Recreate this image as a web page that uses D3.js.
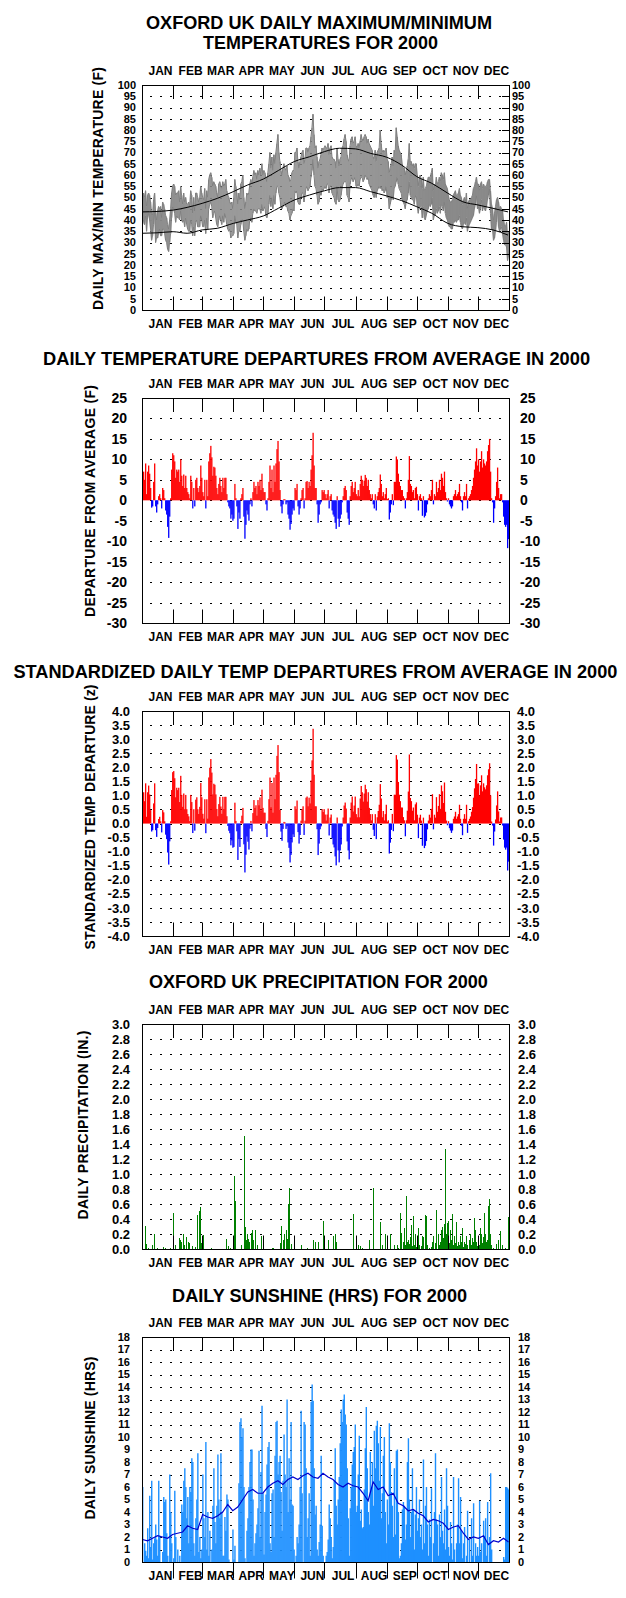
<!DOCTYPE html>
<html><head><meta charset="utf-8">
<script src="https://cdn.jsdelivr.net/npm/d3@7"></script>
<style>
body{margin:0;background:#fff}
svg{display:block}
text{font-family:"Liberation Sans",Arial,Helvetica,sans-serif;font-weight:bold;fill:#000}
</style></head><body>
<svg id="chart" width="626" height="1598"></svg>
<script>
// ---------- DATA ----------
const months = ["JAN","FEB","MAR","APR","MAY","JUN","JUL","AUG","SEP","OCT","NOV","DEC"];
const monthStarts = [0,31,60,91,121,152,182,213,244,274,305,335,366];

const tempTicks = [0,5,10,15,20,25,30,35,40,45,50,55,60,65,70,75,80,85,90,95,100];
const depTicks = [-30,-25,-20,-15,-10,-5,0,5,10,15,20,25];
const zTicks = [-4,-3.5,-3,-2.5,-2,-1.5,-1,-0.5,0,0.5,1,1.5,2,2.5,3,3.5,4];
const precipTicks = [0,0.2,0.4,0.6,0.8,1.0,1.2,1.4,1.6,1.8,2.0,2.2,2.4,2.6,2.8,3.0];
const sunTicks = [0,1,2,3,4,5,6,7,8,9,10,11,12,13,14,15,16,17,18];

// normal (average) max / min temperature, sampled through the year
const normalDays = [0,15,31,45,60,75,91,105,121,136,152,167,182,197,213,228,244,259,274,289,305,320,335,350,365];
const normalMax = [43.6,43.8,44.4,45.6,47.4,49.6,52.6,55.5,58.2,62,66,68.1,70.4,71.9,71.6,69.6,67.9,64.4,59.3,56.3,51.9,48.1,46.7,45.2,43.6];
const normalMin = [34.1,34.3,34.8,34.1,35.6,36.3,38.5,40,41.8,45.2,48.9,51.1,53,54.4,54.4,52.6,50.7,48.6,45.9,43,38.5,37,36.6,35.6,33.3];

const dailyMax = [
48,52,50,53,46,51,52,51,48,43,42,49,52,44,40,44,46,45,46,41,48,47,45,42,41,38,36,40,45,52,55,
56,55,51,52,52,53,48,55,51,47,52,48,50,47,47,48,46,53,51,43,50,44,52,52,50,48,50,55,52,
50,49,54,45,53,50,58,60,61,59,55,57,56,55,52,50,56,57,55,54,57,55,56,58,53,51,50,48,47,48,45,
50,58,55,52,47,52,49,56,57,60,50,45,48,52,51,52,56,58,56,59,62,60,61,58,62,60,63,60,65,60,
62,61,59,57,61,65,70,63,68,62,69,65,70,74,78,70,66,62,60,63,65,63,62,64,60,59,57,58,61,62,62,
70,70,72,66,63,66,68,70,71,65,67,72,72,70,72,73,77,81,87,78,72,73,68,63,66,67,69,72,71,72,
73,72,72,74,69,72,73,68,67,67,66,63,72,67,64,67,68,72,73,76,78,75,69,67,66,73,76,77,74,75,77,
73,72,74,72,75,78,76,75,77,78,77,74,76,74,73,72,71,68,67,71,66,70,71,72,80,74,70,71,70,71,72,
67,66,61,63,65,68,64,71,70,81,77,73,71,70,69,65,63,63,60,62,64,67,74,66,66,64,65,63,65,65,
60,55,59,60,58,54,59,53,54,55,57,59,59,59,61,63,53,56,55,59,56,57,59,57,61,60,58,61,56,55,54,
51,49,48,48,49,51,52,53,51,51,52,54,51,50,47,49,50,48,52,45,48,49,49,50,51,54,55,57,59,56,
56,53,56,57,54,56,55,55,55,57,58,58,53,47,45,40,43,46,49,50,48,45,46,45,44,40,38,37,39,33,35];

const dailyMin = [
38,40,38,42,35,41,43,40,36,31,33,38,44,30,32,32,34,36,33,33,36,36,34,31,30,27,26,30,34,41,46,
45,43,39,42,41,41,40,44,40,39,40,37,41,38,36,35,35,40,38,33,37,33,39,40,37,37,37,42,40,
37,37,40,34,41,36,45,47,48,46,41,43,44,41,38,37,40,42,40,38,42,39,43,41,38,36,35,36,32,33,33,
34,42,39,38,32,35,35,38,40,40,35,31,33,36,35,36,40,41,39,43,45,44,44,43,45,45,45,43,47,44,
45,46,42,41,43,47,51,46,50,45,51,47,52,55,55,52,50,46,45,46,47,48,46,46,44,43,40,42,43,45,44,
53,52,53,48,47,47,50,52,52,48,51,54,55,53,54,55,59,62,67,60,55,54,51,47,48,52,51,54,53,54,
55,54,56,56,52,55,55,52,51,50,48,47,55,49,48,49,51,54,56,57,57,57,51,50,48,56,58,59,57,58,59,
55,55,56,55,58,59,59,57,58,60,59,58,59,56,55,54,53,51,50,53,50,53,54,55,54,55,53,54,52,53,55,
50,51,45,47,49,51,49,54,55,57,59,56,54,53,52,49,48,47,45,48,49,52,57,51,50,49,49,47,50,51,
46,43,46,46,46,41,46,41,40,42,44,45,47,46,47,50,40,42,42,45,43,44,46,43,47,46,44,48,43,41,40,
38,37,37,36,36,39,39,40,39,40,40,42,39,37,36,38,39,38,41,35,37,38,39,40,41,42,45,47,51,45,
46,43,45,49,44,46,45,44,46,49,51,54,43,36,36,31,32,35,39,45,37,35,36,37,34,31,29,29,28,22,24];

const tempDeparture = [
4,7,5,9,1.5,7,8.5,6.5,3,-1.8,-1.5,4.5,9,-1.5,-3,-1,1,1.5,0.5,-2,3,2.5,0.5,-2.5,-3.5,-6.5,-9.2,-4,0.5,7.5,11.5,
11,9.5,5.5,7.5,7,7.5,4.5,10,6,3.5,6.3,3,6,3,2,1.5,0.5,6,4.5,-2,3,-1.5,5,5.5,3,2,3.5,8.5,5.5,
2,1,5,-2,5,1,9.5,11.5,13.3,10.5,6,8.2,8,6,3,1.5,4,5.5,3.5,2,5.5,3,5.5,5.5,1.5,-0.5,-1.5,-2,-4.5,-3.5,-5,
-4.5,4,0.5,-1.5,-7,-3,-4.5,0.5,1.5,3,-4,-9.4,-6,-2.5,-3.5,-5,-1,0.5,-1.5,2,4.5,3,3.5,1.5,4.5,3.5,5,2.5,6.5,3,
2,2,-1,-2.5,0.5,4.5,8.5,3,7.5,2,8.5,4.5,9,12.5,14.5,9.5,2.5,-1.5,-3.2,-1,0.3,0.2,-1,-0.5,-3.5,-4.5,-7.2,-5.8,-3.5,-2,-2.5,
3,2.5,4,-1.5,-3.5,-2,0.5,2.5,3,-2,0.5,4.5,4.7,3,4.5,3.5,7.5,11,16.5,8.5,3,3,-1,-5.5,-3.5,-1,-0.5,2.5,2,2.5,
1.5,0.5,1.5,2.5,-2,1,1.5,-2.5,-3.5,-4,-5.5,-7,1,-4.5,-6.5,-4.5,-3.5,-0.5,1,3,3.5,2.5,-3,-4.5,-6,1,3.5,4.5,2,3,4.5,
1.5,1,2.5,1,4,6,5,3.5,4.8,6.2,5.5,3.5,5,2.5,1.5,0.5,1.5,-1,-2,1.5,-2.5,1,2,3,6.3,4,1,2,0.5,1.5,3,
0.3,0.5,-4.7,-3,-1,1.5,-1.2,4.5,4.5,10.7,10,6.5,4.5,3.5,2.5,2.5,1,0.5,-2,0.5,2,5,10.8,4,3.5,2,2.5,0.5,3,3.3,
1.5,-2.5,1,1.5,0.5,-3.8,1,-4.2,-3.8,-3,-1,0.5,1.5,1,2.5,5,-1,1.5,1,4.5,2,3,5,2.5,6.5,5.5,3.5,7,2,0.5,-0.3,
0.5,-1,-1.5,-2,-1.5,1,1.5,2.5,1,1.5,2,4,1,-0.5,-2.5,1,2,1,4,-2,0.5,1,1.5,2.5,3.5,5.5,7.5,9.5,12.7,8.5,
10,7,9.5,12,8,10,9,8.5,9.5,12,13.5,15,7,0.5,-0.5,-5.5,-2,1,4.5,8,3,0.5,1.5,1.5,-0.5,-4,-6,-6.5,-6,-11.7,-9.5];

// standard deviation of daily mean temperature by month (F), read from the ratio of the two departure charts
const monthlyStdDev = [6.3,5.9,5.8,5.4,5.2,4.9,4.7,4.5,4.4,4.8,6.0,7.0];

const precipitation = [
0,0,0,.31,.07,0,.02,0,0,0,.05,0,.2,0,0,.02,0,0,0,0,0,.03,0,.02,0,0,0,0,.02,0,0,
.48,0,.06,0,0,0,.15,.12,.1,0,.2,.05,0,.16,0,.1,.08,0,0,.04,0,0,.03,0,.45,0,.51,.56,.08,
0,.19,0,0,0,0,0,0,0,.01,0,0,0,0,0,0,0,0,0,0,0,0,0,0,.13,0,.04,0,.02,0,0,
0,.97,.64,0,0,0,0,0,.05,0,0,1.51,.3,.12,.2,.14,.1,0,.22,.25,.12,0,.26,0,.06,0,0,0,.18,0,
0,0,0,0,0,0,0,0,0,.02,.02,0,0,0,0,0,0,.08,.31,0,.12,.2,0,.26,.13,.6,.82,0,.07,0,0,
.1,0,0,0,0,0,0,.05,0,0,0,0,0,.02,0,0,0,0,0,.12,0,.09,0,0,.1,0,0,0,0,.38,
0,0,0,.12,0,0,0,0,.17,0,.2,.1,0,0,0,0,0,0,0,0,0,0,0,0,0,0,0,0,.47,0,0,
0,0,.05,0,.04,0,.02,0,0,0,0,0,0,.12,0,0,0,.81,0,0,0,0,0,0,.36,0,.05,0,0,.2,0,
.03,0,0,.2,0,0,0,.06,0,0,.05,.02,0,.48,.22,0,.1,.28,.06,.71,.1,.12,.07,.16,.32,.04,.44,.05,.2,.03,
0,.28,.05,0,.04,.18,.16,0,.45,.44,.06,0,.02,0,.03,.1,.18,0,.08,.52,0,.2,.05,.1,.25,.3,.15,.33,1.34,.2,.35,
.38,.08,.26,.12,.47,.05,.18,.08,.36,.04,.1,.06,.17,.1,.28,.03,.1,.07,.17,.05,0,.12,.2,.06,.15,.1,.41,.25,.1,.04,
.18,.06,.28,.2,.08,.16,.48,.2,.1,.12,.58,.67,.2,.05,0,.02,0,0,.07,0,.12,0,.24,0,.05,0,0,.01,0,0,.43];

const sunshine = [
6,0,1.5,0.9,0.5,2.7,0.3,5.3,1.2,6.5,0.2,1.5,1.9,3,1.8,0.5,6.5,2.1,0,0,0.8,5.2,4.8,5,2.3,0.5,0,7,4,1.5,0,
0.3,5.7,2,0,1,0,0.5,0,4.6,4,6.5,7.5,6,3.5,5.2,1.5,6,5.6,8.3,8,1.5,0.5,3.5,5,8.7,0.8,2,0.3,1,
7,3.5,2,9.6,1,4,0.5,2.5,0,1,4.5,7.5,3.2,1.5,4.5,8.6,5,3.5,8.7,4,0.5,0.5,3.6,2.5,5.4,5,0.2,0,0,0,2.6,
0.2,1.3,0,0,0,6.3,11.2,11.5,10,10.7,6,0.3,0,2.5,3.5,6,8,9,9,5,0.5,1.5,2.3,3,4.3,8.9,2,7.2,12.5,5.5,
0.6,4,5.4,7.8,9.2,9.6,1.5,0.8,5.5,5.8,2,8.5,11.2,11.3,7,8,8.5,5.6,2.5,6.5,10.2,7,6,13,4,8.3,5,11.2,4.6,4.5,1,
0,0.5,2,1.5,3,6,12.1,5.5,0,11.2,11,7.5,2,3.5,5.5,0.5,12.8,14.2,12.9,7.5,3.8,4.5,1,0.5,1.6,3,8.5,2.9,0.5,0,
0,0.5,0.8,1.8,4.6,3.5,2,0.3,1.2,6.5,9.1,4.5,3,5,6.8,9.5,12.2,11.2,13,13.4,11.8,11,7.5,3.5,0.5,4.3,6,7.8,8.8,9.2,11,
4,4.5,7,10.1,3.3,4.2,2.7,2.8,5.8,9.1,12.4,7.5,4,3,8.8,6,8,4.5,10.5,7.5,10.9,11.3,9.5,6.5,10.8,3.5,5.5,8.5,10,4,1.5,
5,3,11.1,8,5.6,4.5,2,7.5,2.2,8.9,9,4,0.3,0.5,1.5,4.2,4.8,4.5,1.8,3,8,9.9,5,2,4,7.5,4.2,1,3.8,6,
2.5,3.5,5,2,3,1,8.2,1.5,4.5,6,3,0.5,3.4,2,5.9,0,1.5,4,8.7,3.4,3,0.5,3.8,2,6.8,2.5,1.5,4.2,1,7.5,4.5,
1.2,0.5,3.2,1.5,0.2,6.8,1,0,1.5,3,6.7,1.5,5.2,2.5,0.3,1.5,2.8,0,0.5,4.1,0,1.8,0,3.5,0.5,4.7,0,1.5,0.5,1.2,
0.5,4.9,0.8,1.5,0,3.3,2.1,3.5,0.5,4.8,0,2,7.1,1,0,0,0,0,0,0,0,0,0,0,0,0.4,0.2,6,6,5.9,5.8];

// average sunshine, one value every 5 days (day 0,5,...,365)
const sunshineNormal = [1.8,1.7,1.9,2.1,2.0,1.9,2.2,2.3,2.4,2.9,2.7,2.6,3.8,3.6,3.5,3.7,4.0,4.6,4.1,4.4,
5.0,5.6,5.8,5.5,5.5,6.0,6.3,6.5,6.2,6.6,6.8,6.6,6.9,7.1,6.8,6.7,7.1,6.8,6.6,6.2,
6.0,6.3,6.1,6.0,5.5,4.9,6.4,5.8,6.0,5.3,5.5,4.7,4.5,4.1,4.2,3.9,3.7,3.2,3.4,3.3,
3.1,2.6,2.8,2.9,2.3,1.8,2.0,1.9,2.1,1.4,1.7,1.6,1.9,1.6];

[["dailyMax",dailyMax],["dailyMin",dailyMin],["tempDeparture",tempDeparture],["precipitation",precipitation],["sunshine",sunshine]]
  .forEach(([n,a]) => { if (a.length !== 366) console.error(n + " length " + a.length); });

// ---------- DRAWING ----------
const svg = d3.select("#chart");
const plotL = 142, plotR = 509;
const x = d3.scaleLinear().domain([0, 366]).range([plotL, plotR]);
const dayW = x(1) - x(0);
const days = d3.range(366);
const monthOf = d => d3.bisectRight(monthStarts, d) - 1;
const dotDays = d3.range(36).map(k => 9.2 + k * 9.95);

function panel(o) {
  const y = d3.scaleLinear().domain(o.domain).range([o.top + o.height, o.top]);
  const root = svg.append("g");
  const gDots = root.append("g");
  const gData = root.append("g");
  const gFrame = root.append("g");

  const pts = [];
  o.ticks.filter(v => v > o.domain[0] && v < o.domain[1])
    .forEach(v => dotDays.forEach(d => pts.push([d, v])));
  gDots.selectAll("rect").data(pts).join("rect")
    .attr("x", p => Math.round(x(p[0])) - 1).attr("y", p => Math.round(y(p[1])))
    .attr("width", 2).attr("height", 1).attr("fill", "#000");

  gFrame.append("rect").attr("x", plotL + 0.5).attr("y", o.top + 0.5)
    .attr("width", plotR - plotL).attr("height", o.height)
    .attr("fill", "none").attr("stroke", "#000").attr("stroke-width", 1);

  const inner = monthStarts.slice(1, 12);
  gFrame.selectAll("line.tt").data(inner).join("line")
    .attr("x1", d => Math.round(x(d)) + 0.5).attr("x2", d => Math.round(x(d)) + 0.5)
    .attr("y1", o.top).attr("y2", o.top + 14).attr("stroke", "#000");
  const b = o.top + o.height + 0.5;
  gFrame.selectAll("line.bt").data(inner).join("line")
    .attr("x1", d => Math.round(x(d)) + 0.5).attr("x2", d => Math.round(x(d)) + 0.5)
    .attr("y1", o.bottomOut ? b : b - 14).attr("y2", o.bottomOut ? b + 16 : b).attr("stroke", "#000");

  const mids = months.map((m, i) => ({ m, xm: x((monthStarts[i] + monthStarts[i + 1]) / 2) + 3 }));
  [o.top - 10, o.top + o.height + 18].forEach(yy => {
    gFrame.append("g").selectAll("text").data(mids).join("text")
      .attr("x", d => d.xm).attr("y", yy).attr("text-anchor", "middle")
      .style("font-size", "12px").text(d => d.m);
  });

  gFrame.append("g").selectAll("text").data(o.ticks).join("text")
    .attr("x", o.leftX).attr("y", v => y(v)).attr("dy", "0.36em").attr("text-anchor", "end")
    .style("font-size", o.tickSize + "px").text(o.fmt);
  gFrame.append("g").selectAll("text").data(o.ticks).join("text")
    .attr("x", o.rightX).attr("y", v => y(v)).attr("dy", "0.36em").attr("text-anchor", "start")
    .style("font-size", o.tickSize + "px").text(o.fmt);

  o.titles.forEach(t => {
    gFrame.append("text").attr("x", t.x).attr("y", t.y).attr("text-anchor", "middle")
      .attr("textLength", t.len).attr("lengthAdjust", "spacingAndGlyphs")
      .style("font-size", (t.size || 18) + "px").text(t.text);
  });

  gFrame.append("text")
    .attr("transform", `translate(${o.ylab.x},${o.ylab.y}) rotate(-90)`)
    .attr("text-anchor", "middle").attr("dominant-baseline", "central")
    .attr("textLength", o.ylab.len).attr("lengthAdjust", "spacing")
    .style("font-size", "14px").text(o.ylab.text);

  return { y, gData, gFrame };
}

// Panel 1: max/min temperatures
const p1 = panel({
  top: 85, height: 225, domain: [0, 100], ticks: tempTicks, tickSize: 11,
  leftX: 136, rightX: 512, fmt: v => String(v),
  titles: [{ text: "OXFORD UK DAILY MAXIMUM/MINIMUM", x: 319, y: 29.3, len: 346 },
           { text: "TEMPERATURES FOR 2000", x: 320.5, y: 49.3, len: 235 }],
  ylab: { text: "DAILY MAX/MIN TEMPERATURE (F)", x: 98, y: 188.5, len: 243 }
});
p1.gData.selectAll("rect").data(days).join("rect")
  .attr("x", d => x(d)).attr("width", dayW + 0.2)
  .attr("y", d => p1.y(dailyMax[d])).attr("height", d => p1.y(dailyMin[d]) - p1.y(dailyMax[d]))
  .attr("fill", "#8a8a8a");
[dailyMax, dailyMin].forEach(arr => {
  p1.gData.append("path").datum(days)
    .attr("d", d3.line().x(d => x(d + 0.5)).y(d => p1.y(arr[d])))
    .attr("fill", "none").attr("stroke", "#808080").attr("stroke-width", 1);
});
[normalMax, normalMin].forEach(arr => {
  p1.gData.append("path").datum(normalDays.map((d, i) => [d, arr[i]]))
    .attr("d", d3.line().x(p => x(p[0])).y(p => p1.y(p[1])).curve(d3.curveMonotoneX))
    .attr("fill", "none").attr("stroke", "#000").attr("stroke-width", 1);
});
p1.gFrame.selectAll("line.rt").data(tempTicks).join("line")
  .attr("x1", plotR - 7).attr("x2", plotR).attr("y1", v => Math.round(p1.y(v)) + 0.5).attr("y2", v => Math.round(p1.y(v)) + 0.5)
  .attr("stroke", "#000");

// Panel 2: departures
const p2 = panel({
  top: 398, height: 225, domain: [-30, 25], ticks: depTicks, tickSize: 14,
  leftX: 127, rightX: 520, fmt: v => String(v),
  titles: [{ text: "DAILY TEMPERATURE DEPARTURES FROM AVERAGE IN 2000", x: 316.6, y: 365, len: 547 }],
  ylab: { text: "DEPARTURE FROM AVERAGE (F)", x: 89.5, y: 501, len: 232 }
});
p2.gData.selectAll("rect").data(days).join("rect")
  .attr("x", d => x(d)).attr("width", dayW + 0.3)
  .attr("y", d => Math.min(p2.y(tempDeparture[d]), p2.y(0)))
  .attr("height", d => Math.abs(p2.y(tempDeparture[d]) - p2.y(0)))
  .attr("fill", d => tempDeparture[d] >= 0 ? "#ff0000" : "#0000ff");

// Panel 3: standardized departures
const zScore = days.map(d => tempDeparture[d] / monthlyStdDev[monthOf(d)]);
const p3 = panel({
  top: 711, height: 225, domain: [-4, 4], ticks: zTicks, tickSize: 13,
  leftX: 130, rightX: 517, fmt: v => v.toFixed(1),
  titles: [{ text: "STANDARDIZED DAILY TEMP DEPARTURES FROM AVERAGE IN 2000", x: 315.4, y: 678.3, len: 604, size: 17.6 }],
  ylab: { text: "STANDARDIZED TEMP DEPARTURE (z)", x: 89.5, y: 817, len: 265 }
});
p3.gData.selectAll("rect").data(days).join("rect")
  .attr("x", d => x(d)).attr("width", dayW + 0.3)
  .attr("y", d => Math.min(p3.y(zScore[d]), p3.y(0)))
  .attr("height", d => Math.abs(p3.y(zScore[d]) - p3.y(0)))
  .attr("fill", d => zScore[d] >= 0 ? "#ff0000" : "#0000ff");

// Panel 4: precipitation
const p4 = panel({
  top: 1024, height: 225, domain: [0, 3], ticks: precipTicks, tickSize: 13,
  leftX: 130, rightX: 518, fmt: v => v.toFixed(1),
  titles: [{ text: "OXFORD UK PRECIPITATION FOR 2000", x: 318.4, y: 988.3, len: 339 }],
  ylab: { text: "DAILY PRECIPITATION (IN.)", x: 82.5, y: 1125, len: 189 }
});
p4.gData.selectAll("rect").data(days.filter(d => precipitation[d] > 0)).join("rect")
  .attr("x", d => Math.floor(x(d + 0.5))).attr("width", 1)
  .attr("y", d => p4.y(precipitation[d])).attr("height", d => p4.y(0) - p4.y(precipitation[d]))
  .attr("fill", "#008000").attr("shape-rendering", "crispEdges");

// Panel 5: sunshine
const p5 = panel({
  top: 1337, height: 225, domain: [0, 18], ticks: sunTicks, tickSize: 11,
  leftX: 130, rightX: 518, fmt: v => String(v), bottomOut: true,
  titles: [{ text: "DAILY SUNSHINE (HRS) FOR 2000", x: 319.6, y: 1301.7, len: 295 }],
  ylab: { text: "DAILY SUNSHINE (HRS)", x: 89.5, y: 1438, len: 163 }
});
p5.gData.selectAll("rect").data(days.filter(d => sunshine[d] > 0)).join("rect")
  .attr("x", d => x(d)).attr("width", dayW + 0.4)
  .attr("y", d => p5.y(sunshine[d])).attr("height", d => p5.y(0) - p5.y(sunshine[d]))
  .attr("fill", "#1e90ff");
p5.gData.append("path").datum(sunshineNormal.map((v, i) => [i * 5, v]))
  .attr("d", d3.line().x(p => x(p[0] + 0.5)).y(p => p5.y(p[1])))
  .attr("fill", "none").attr("stroke", "#0000cd").attr("stroke-width", 1.2);
</script>
</body></html>
